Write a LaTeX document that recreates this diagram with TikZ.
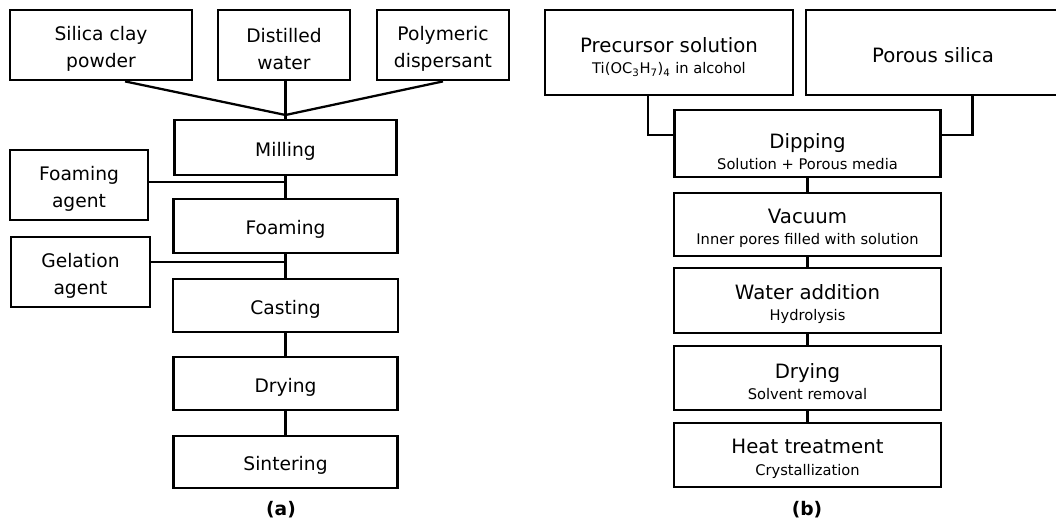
\documentclass[tikz,border=0pt]{standalone}
\usepackage{fontspec}
\setmainfont{DejaVu Sans}
\usetikzlibrary{calc}
\newcommand{\subline}{\fontsize{11}{12}\selectfont}
% invisible strut that sets the height of a box's first text line
\newcommand{\tall}[1]{\rule{0pt}{#1}}
\begin{document}
\begin{tikzpicture}[x=0.75pt,y=-0.75pt,
  box/.style={draw,line width=2.1pt,inner sep=0pt,align=center},
  lbox/.style={box,font=\fontsize{14}{20}\selectfont},
  rbox/.style={box,font=\fontsize{14.8}{18}\selectfont},
  link/.style={line width=1.7pt},
  tag/.style={font=\bfseries\fontsize{14}{16}\selectfont}]
\useasboundingbox (0,0) rectangle (1056,520);
\begin{scope}
\clip (0,0) rectangle (1056,520);

% ---------- (a) foam casting route ----------
\node[lbox,minimum width=136.5pt,minimum height=52.5pt] (silica) at (101,45) {\tall{16.6pt}Silica clay\\powder};
\node[lbox,minimum width=99pt,minimum height=52.5pt] (water) at (284,45) {\tall{16.6pt}Distilled\\water};
\node[lbox,minimum width=99pt,minimum height=52.5pt] (disp) at (443,45) {\tall{16.6pt}Polymeric\\dispersant};
\node[lbox,minimum width=166.5pt,minimum height=41.25pt] (milling) at (285.5,147.5) {\tall{16.6pt}Milling};
\node[lbox,minimum width=103.5pt,minimum height=52.5pt] (foamag) at (79,185) {\tall{16.2pt}Foaming\\agent};
\node[lbox,minimum width=168pt,minimum height=40.5pt] (foaming) at (285.5,226) {\tall{16.2pt}Foaming};
\node[lbox,minimum width=104.25pt,minimum height=52.5pt] (gelag) at (80.5,272) {\tall{16.6pt}Gelation\\agent};
\node[lbox,minimum width=168.75pt,minimum height=39.75pt] (casting) at (285.5,305.5) {\tall{16.2pt}Casting};
\node[lbox,minimum width=168pt,minimum height=39.75pt] (drya) at (285.5,383.5) {\tall{16.2pt}Drying};
\node[lbox,minimum width=168pt,minimum height=39pt] (sinter) at (285.5,462) {\tall{15.6pt}Sintering};

\coordinate (join) at (285.5,115);
\draw[link] ($(silica.south west)!0.63!(silica.south east)$) -- (join);
\draw[link] (water.south -| join) -- (join);
\draw[link] (disp.south) -- (join);
\draw[link] (join) -- (join |- milling.north);
\draw[link] (milling.south) -- (foaming.north);
\draw[link] ($(foamag.east)+(0,-3)$) -- (join |- {$(foamag.east)+(0,-3)$});
\draw[link] (foaming.south) -- (casting.north);
\draw[link] ($(gelag.east)+(0,-10)$) -- (join |- {$(gelag.east)+(0,-10)$});
\draw[link] (casting.south) -- (drya.north);
\draw[link] (drya.south) -- (sinter.north);

\node[tag] (laba) at (281,510) {(a)};

% ---------- (b) impregnation route ----------
\node[rbox,minimum width=186pt,minimum height=63.75pt] (prec) at (669,52.5)
  {\tall{18pt}Precursor solution\\[-2pt]{\subline Ti(OC\textsubscript{3}H\textsubscript{7})\textsubscript{4} in alcohol}};
\node[rbox,minimum width=190.5pt,minimum height=63.75pt] (silb) at (933,52.5) {\tall{15.7pt}Porous silica};
\node[rbox,minimum width=199.5pt,minimum height=50.25pt] (dip) at (807.5,143.5)
  {\tall{23pt}Dipping\\[-2pt]{\subline Solution + Porous media}};
\node[rbox,minimum width=200.25pt,minimum height=47.25pt] (vac) at (807.5,224.5)
  {\tall{16.3pt}Vacuum\\[-2pt]{\subline Inner pores filled with solution}};
\node[rbox,minimum width=200.25pt,minimum height=48.75pt] (wat) at (807.5,300.5)
  {\tall{16.5pt}Water addition\\[-2pt]{\subline Hydrolysis}};
\node[rbox,minimum width=200.25pt,minimum height=48pt] (dryb) at (807.5,378)
  {\tall{16.3pt}Drying\\[-2pt]{\subline Solvent removal}};
\node[rbox,minimum width=200.25pt,minimum height=48pt] (heat) at (807.5,455)
  {\tall{16.5pt}Heat treatment\\[-2pt]{\subline Crystallization}};

\coordinate (lt) at ($(prec.south west)!0.415!(prec.south east)$);
\coordinate (rt) at ($(silb.south west)!0.654!(silb.south east)$);
\coordinate (dl) at ($(dip.west)+(0,-8.5)$);
\coordinate (dr) at ($(dip.east)+(0,-8.5)$);
\draw[link] (lt) |- (dl);
\draw[link] (rt) |- (dr);
\draw[link] (dip.south) -- (vac.north);
\draw[link] (vac.south) -- (wat.north);
\draw[link] (wat.south) -- (dryb.north);
\draw[link] (dryb.south) -- (heat.north);

\node[tag] (labb) at (807,510) {(b)};
\end{scope}
\end{tikzpicture}
\end{document}
